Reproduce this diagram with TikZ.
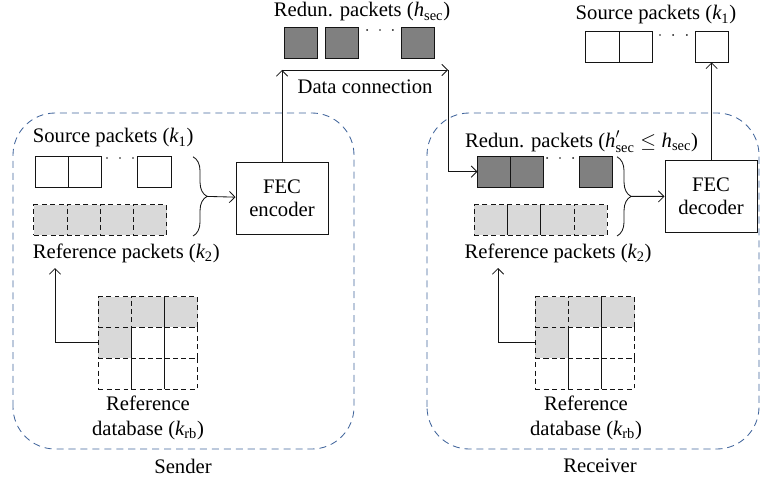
\documentclass[tikz,border=0pt]{standalone}
\usepackage{amsmath}
\usepackage{fontspec}
\setmainfont{Liberation Serif}
\usetikzlibrary{arrows.meta,positioning,decorations.pathreplacing}
\definecolor{figline}{RGB}{20,20,20}
\definecolor{figgrp}{RGB}{66,102,156}
\definecolor{figdark}{RGB}{128,128,128}
\definecolor{figlite}{RGB}{217,217,217}
\tikzset{
  lab/.style  ={font=\fontsize{14.7}{17.8}\selectfont, inner sep=1pt},
  grp/.style  ={draw=figgrp, line width=0.6pt, dash pattern=on 5pt off 3.5pt, rounded corners=30pt},
  cel/.style  ={draw=figline, line width=0.6pt, minimum width=0.83cm, minimum height=0.77cm, inner sep=0pt, outer sep=0pt},
  celd/.style ={cel, fill=figdark},
  celr/.style ={cel, fill=figlite, dash pattern=on 3.5pt off 2.5pt},
  celg/.style ={cel, dash pattern=on 3.5pt off 2.5pt},
  fec/.style  ={draw=figline, line width=0.6pt, minimum width=2.3cm, minimum height=1.82cm, align=center, font=\fontsize{14.7}{16}\selectfont},
  ptr/.style  ={draw=figline, line width=0.6pt, -{Straight Barb[length=4pt,width=8pt]}},
  brc/.style  ={draw=figline, line width=0.6pt, decorate, decoration={brace, amplitude=10pt, aspect=0.5}},
  dts/.style  ={fill=figline},
}
\newcommand{\kv}[2]{${\textit{#1}}_{\text{#2}}$}

\begin{document}
\begin{tikzpicture}
  \useasboundingbox (0,0) rectangle (19,12);
  % sender and receiver
  \draw[grp] (0.325,0.775) rectangle (8.85,9.175);
  \draw[grp] (10.675,0.775) rectangle (18.975,9.175);
  \node[lab] (sndl) at (4.575,0.35) {Sender};
  \node[lab] (rcvl) at (15,0.35) {Receiver};

  % sender side
  \node[lab,anchor=west] (srcl) at (0.78,8.55) {Source packets (\kv{k}{1})};
  \node[cel] (s1) at (1.29,7.71) {};
  \node[cel,right=0pt of s1] (s2) {};
  \node[cel] (s3) at (3.86,7.71) {};
  \fill[dts] (2.675,8.05) circle (0.7pt) (3.0,8.05) circle (0.7pt) (3.325,8.05) circle (0.7pt);
  \node[celr] (f1) at (1.26,6.5) {};
  \node[celr,right=0pt of f1] (f2) {};
  \node[celr,right=0pt of f2] (f3) {};
  \node[celr,right=0pt of f3] (f4) {};
  \node[lab,anchor=west] (refl) at (0.78,5.675) {Reference packets (\kv{k}{2})};
  \draw[brc] (4.825,8.08) -- (4.825,6.1) coordinate[midway,xshift=10pt] (sbr);
  \node[fec] (enc) at (7.05,7.04) {FEC\\encoder};
  \draw[ptr] (sbr) -- (enc);

  \node[celr] (g11) at (2.87,4.2) {};
  \node[celr,right=0pt of g11] (g12) {};
  \node[celr,right=0pt of g12] (g13) {};
  \node[celr,below=0pt of g11] (g21) {};
  \node[celg,right=0pt of g21] (g22) {};
  \node[celg,right=0pt of g22] (g23) {};
  \node[celg,below=0pt of g21] (g31) {};
  \node[celg,right=0pt of g31] (g32) {};
  \node[celg,right=0pt of g32] (g33) {};
  \node[lab,align=center] (dbl) at (3.7,1.56) {Reference\\database (\kv{k}{rb})};
  \coordinate (sup) at (1.375,5.3);
  \draw[ptr] (g21.west) -| (sup);

  % channel
  \node[lab] (redl) at (9.05,11.7) {Redun. packets (\kv{h}{sec})};
  \node[celd] (d1) at (7.525,10.925) {};
  \node[celd] (d2) at (8.54,10.925) {};
  \node[celd] (d3) at (10.45,10.925) {};
  \fill[dts] (9.18,11.25) circle (0.7pt) (9.5,11.25) circle (0.7pt) (9.82,11.25) circle (0.7pt);
  \node[lab] (dcl) at (9.125,9.825) {Data connection};
  \coordinate (dc1) at (enc.north |- 0,10.25);
  \coordinate (dc2) at (11.2,10.25);

  % receiver side
  \node[lab] (rrl) at (14.54,8.45) {Redun. packets (${\textit{h}}'_{\text{sec}}\leq{\textit{h}}_{\text{sec}}$)};
  \node[celd] (r1) at (12.35,7.71) {};
  \node[celd,right=0pt of r1] (r2) {};
  \node[celd] (r3) at (14.89,7.71) {};
  \fill[dts] (13.68,8.05) circle (0.7pt) (14.0,8.05) circle (0.7pt) (14.33,8.05) circle (0.7pt);
  \node[celr] (q1) at (12.275,6.5) {};
  \node[celr,right=0pt of q1] (q2) {};
  \node[celr,right=0pt of q2] (q3) {};
  \node[celr,right=0pt of q3] (q4) {};
  \node[lab,anchor=west] (rrefl) at (11.575,5.675) {Reference packets (\kv{k}{2})};
  \draw[brc] (15.425,8.08) -- (15.425,6.1) coordinate[midway,xshift=10pt] (rbr);
  \node[fec] (dec) at (17.775,7.09) {FEC\\decoder};
  \draw[ptr] (rbr) -- (dec);

  \node[celr] (h11) at (13.795,4.2) {};
  \node[celr,right=0pt of h11] (h12) {};
  \node[celr,right=0pt of h12] (h13) {};
  \node[celr,below=0pt of h11] (h21) {};
  \node[celg,right=0pt of h21] (h22) {};
  \node[celg,right=0pt of h22] (h23) {};
  \node[celg,below=0pt of h21] (h31) {};
  \node[celg,right=0pt of h31] (h32) {};
  \node[celg,right=0pt of h32] (h33) {};
  \node[lab,align=center] (rdbl) at (14.65,1.56) {Reference\\database (\kv{k}{rb})};
  \coordinate (rup) at (12.45,5.3);
  \draw[ptr] (h21.west) -| (rup);

  % output
  \node[lab] (outl) at (16.4,11.625) {Source packets (\kv{k}{1})};
  \node[cel] (t1) at (15.06,10.825) {};
  \node[cel,right=0pt of t1] (t2) {};
  \node[cel] (t3) at (17.79,10.825) {};
  \fill[dts] (16.5,11.125) circle (0.7pt) (16.83,11.125) circle (0.7pt) (17.17,11.125) circle (0.7pt);

  % connections
  \draw[ptr] (enc.north) -- (dc1);
  \draw[ptr] (dc1) -- (dc2);
  \draw[ptr] (dc2) |- (r1.west);
  \draw[ptr] (dec.north -| t3) -- (t3.south);
\end{tikzpicture}
\end{document}
